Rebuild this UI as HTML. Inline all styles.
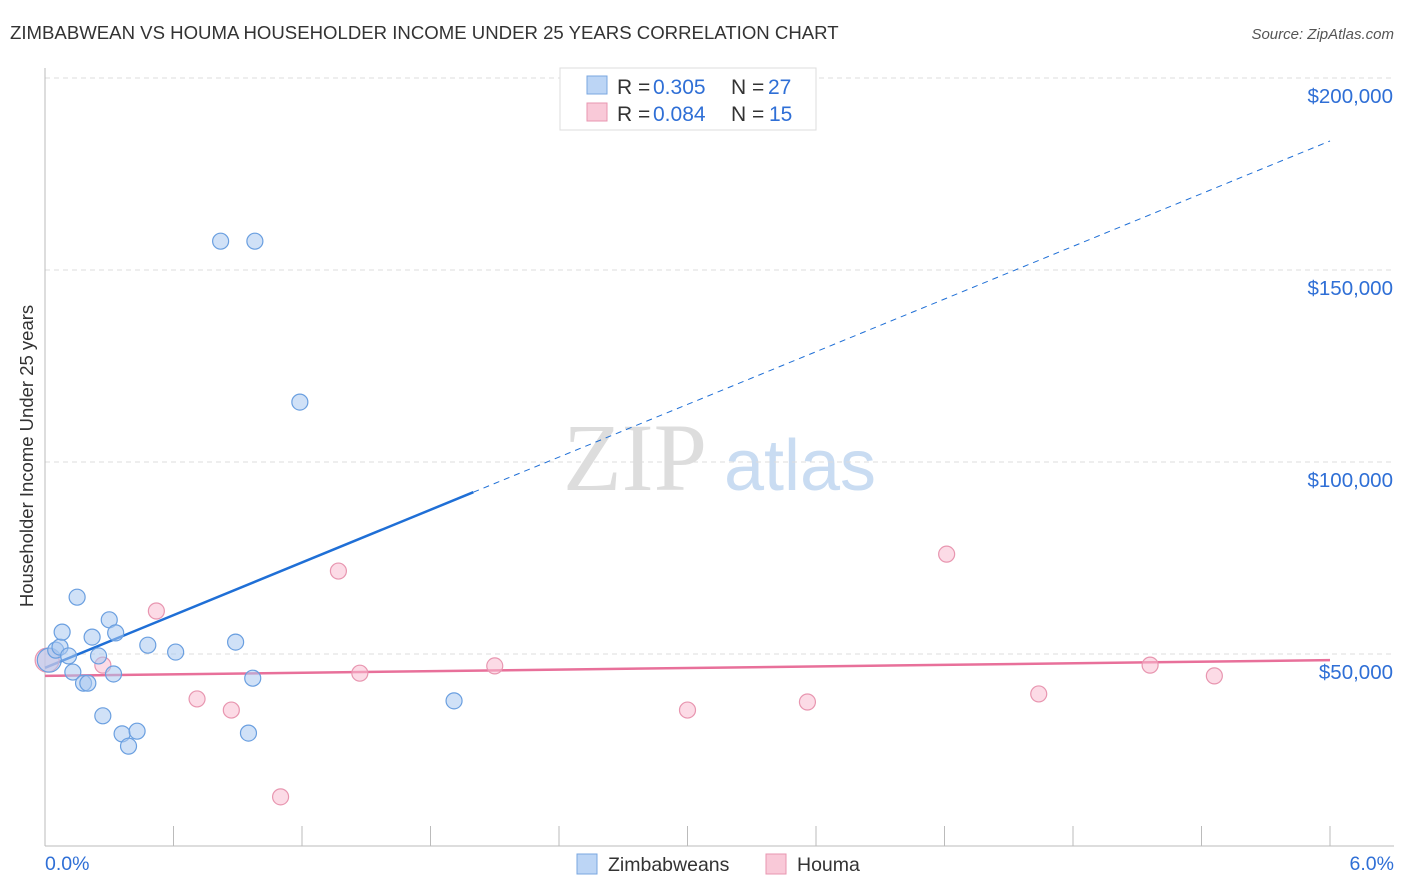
<!DOCTYPE html>
<html><head><meta charset="utf-8"><style>
body{margin:0;background:#fff;font-family:"Liberation Sans",sans-serif;}
svg{display:block}
</style></head><body>
<svg id="chart" width="1406" height="892" xmlns="http://www.w3.org/2000/svg">
<text x="10" y="39" font-size="18.6" fill="#333">ZIMBABWEAN VS HOUMA HOUSEHOLDER INCOME UNDER 25 YEARS CORRELATION CHART</text>
<text x="1394" y="39" font-size="15" fill="#555" font-style="italic" text-anchor="end">Source: ZipAtlas.com</text>
<text x="33" y="456" font-size="18.5" fill="#333" text-anchor="middle" transform="rotate(-90 33 456)">Householder Income Under 25 years</text>
<g><text x="635" y="490" font-size="96" font-family="Liberation Serif,serif" fill="#ddd" text-anchor="middle">ZIP</text><text x="800" y="490" font-size="72" fill="#c9dcf2" text-anchor="middle">atlas</text></g>
<g id="grid"></g><g id="axes"></g><g id="lines"></g><g id="pts"></g>
<g>
<rect x="560" y="68" width="256" height="62" fill="#fff" stroke="#ddd"/>
<rect x="587" y="76" width="20" height="18" fill="#bcd5f5" stroke="#7aa7e0"/>
<text x="617" y="94" font-size="21" fill="#333">R =</text><text x="653" y="94" font-size="21" fill="#2f6fd6">0.305</text>
<text x="731" y="94" font-size="21" fill="#333">N =</text><text x="768" y="94" font-size="21" fill="#2f6fd6">27</text>
<rect x="587" y="103" width="20" height="18" fill="#f9c9d8" stroke="#e896b0"/>
<text x="617" y="121" font-size="21" fill="#333">R =</text><text x="653" y="121" font-size="21" fill="#2f6fd6">0.084</text>
<text x="731" y="121" font-size="21" fill="#333">N =</text><text x="769" y="121" font-size="21" fill="#2f6fd6">15</text>
</g>
<g>
<rect x="577" y="854" width="20" height="20" fill="#bcd5f5" stroke="#7aa7e0"/>
<text x="608" y="871" font-size="19.5" fill="#333">Zimbabweans</text>
<rect x="766" y="854" width="20" height="20" fill="#f9c9d8" stroke="#e896b0"/>
<text x="797" y="871" font-size="19.5" fill="#333">Houma</text>
</g>
</svg>
<script>
const yTicks=[50000,100000,150000,200000];
const yTickLabels=["$50,000","$100,000","$150,000","$200,000"];
const xTickLabels=["0.0%","6.0%"];
const blueX=[0.02,0.05,0.07,0.11,0.13,0.15,0.08,0.18,0.20,0.22,0.25,0.27,0.30,0.32,0.33,0.36,0.39,0.43,0.48,0.61,0.82,0.98,0.89,0.95,0.97,1.19,1.91];
const blueY=[48400,51000,51800,49500,45300,64800,55700,42400,42400,54400,49500,33900,58900,44800,55500,29200,26000,29900,52300,50500,157500,157500,53100,29400,43700,115600,37800];
const pinkX=[0.01,0.27,0.52,0.71,0.87,1.10,1.37,1.47,2.10,3.00,3.56,4.21,4.64,5.16,5.46];
const pinkY=[48400,47100,61200,38300,35400,12800,71600,45000,46900,35400,37500,76000,39600,47100,44300];
const blueLine=[46400,183600];const blueSolidEnd=2.0;
const pinkLine=[44300,48400];
const NS="http://www.w3.org/2000/svg";
const X=v=>45+v/6*1285, Y=v=>846-v/50000*192;
function mk(t,a,p){const e=document.createElementNS(NS,t);for(const k in a)e.setAttribute(k,a[k]);document.getElementById(p).appendChild(e);return e;}
yTicks.forEach((t,i)=>{
 const g=mk('line',{x1:45,x2:1394,y1:Y(t),y2:Y(t),stroke:'#ddd','stroke-dasharray':'5,4'},'grid');
 
 
 const l=mk('text',{x:1393,y:Y(t)+25,'font-size':20.5,fill:'#2f6fd6','text-anchor':'end'},'axes');l.textContent=yTickLabels[i];
 
 
});
mk('line',{x1:45,x2:1394,y1:846,y2:846,stroke:'#bbb'},'axes');
mk('line',{x1:45,x2:45,y1:68,y2:846,stroke:'#bbb'},'axes');
for(let i=0;i<=10;i++){const t=mk('line',{x1:X(i*0.6),x2:X(i*0.6),y1:826,y2:846,stroke:'#bbb'},'axes');
 
 }
[[0,'start',45],[6,'end',1394]].forEach((d,i)=>{const l=mk('text',{x:d[2],y:870,'font-size':19.5,fill:'#2f6fd6','text-anchor':d[1]},'axes');l.textContent=xTickLabels[i];
 
 });
const by=x=>blueLine[0]+(blueLine[1]-blueLine[0])*x/6;
let a=mk('line',{x1:X(0),y1:Y(by(0)),x2:X(blueSolidEnd),y2:Y(by(blueSolidEnd)),stroke:'#1f6fd6','stroke-width':2.5},'lines');


a=mk('line',{x1:X(blueSolidEnd),y1:Y(by(blueSolidEnd)),x2:X(6),y2:Y(by(6)),stroke:'#1f6fd6','stroke-width':1,'stroke-dasharray':'6,5'},'lines');


a=mk('line',{x1:X(0),y1:Y(pinkLine[0]),x2:X(6),y2:Y(pinkLine[1]),stroke:'#e8709a','stroke-width':2.5},'lines');


pinkX.forEach((x,i)=>{const c=mk('circle',{cx:X(x),cy:Y(pinkY[i]),r:i==0?12:8,fill:'rgba(249,190,210,0.55)',stroke:'#e896b0','stroke-width':1.2},'pts');
 
 });
blueX.forEach((x,i)=>{const c=mk('circle',{cx:X(x),cy:Y(blueY[i]),r:i==0?12:8,fill:'rgba(170,200,240,0.55)',stroke:'#6a9fe0','stroke-width':1.2},'pts');
 
 });
</script>
</body></html>
